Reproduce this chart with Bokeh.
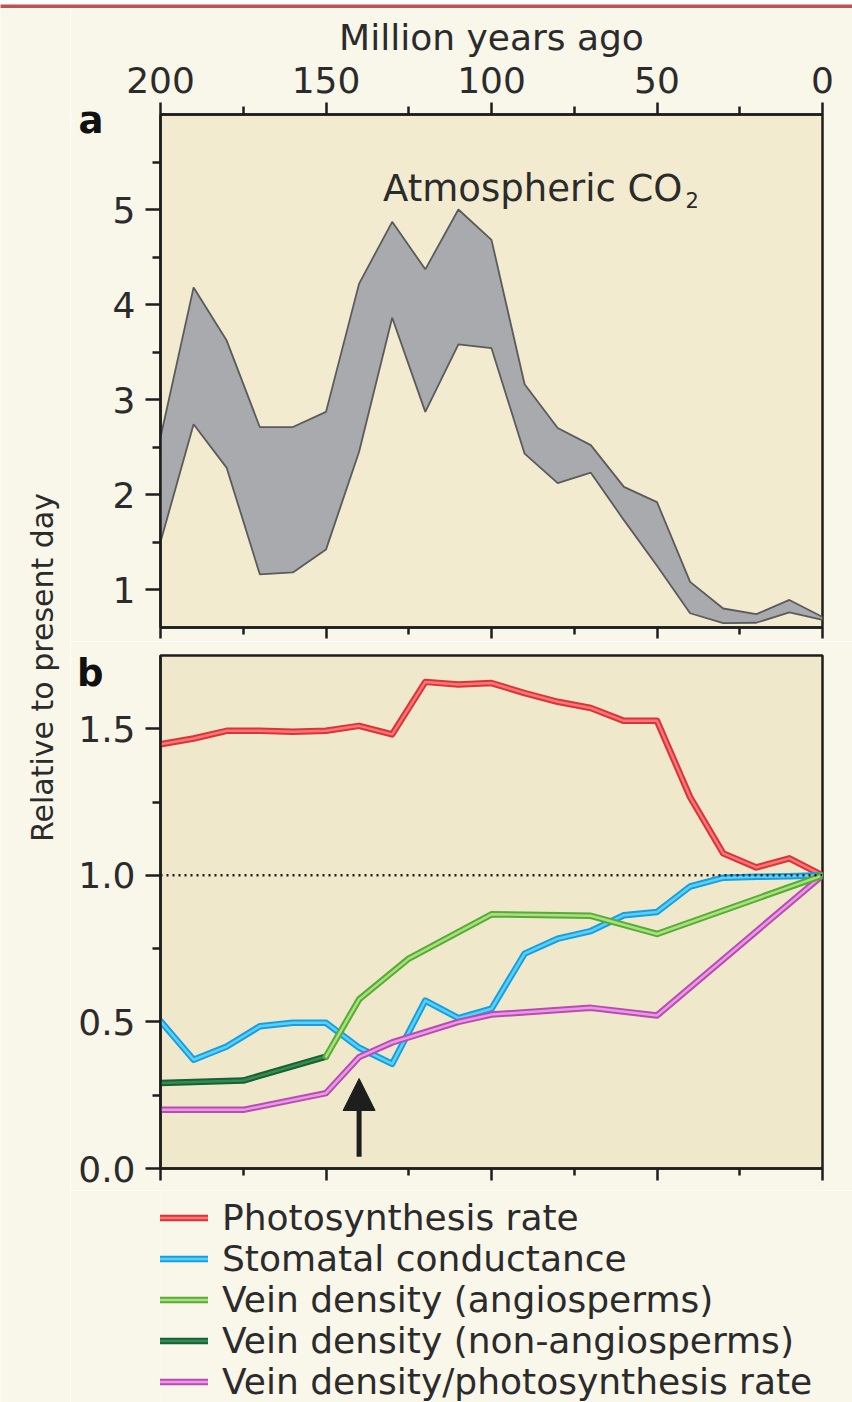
import math
import numpy as np
from bokeh.plotting import figure
from bokeh.models import (Range1d, LinearAxis, FixedTicker, Label, Span, Arrow, NormalHead,
                          Legend, LegendItem, PrintfTickFormatter, CustomJSTickFormatter)
from bokeh.layouts import column, row
from bokeh.embed import file_html
from bokeh.resources import INLINE

# ---------------- data ----------------
# panel a: atmospheric CO2 (relative to present day), upper / lower bounds
co2_age = [200, 190, 180, 170, 160, 150, 140, 130, 120, 110, 100, 90, 80, 70, 60, 50, 40, 30, 20, 10, 0]
co2_upper = [2.60, 4.18, 3.62, 2.71, 2.71, 2.87, 4.22, 4.87, 4.37, 5.00, 4.68, 3.16, 2.70, 2.52, 2.08, 1.92, 1.08, 0.80, 0.74, 0.89, 0.71]
co2_lower = [1.50, 2.74, 2.28, 1.16, 1.18, 1.42, 2.45, 3.86, 2.87, 3.58, 3.54, 2.43, 2.12, 2.23, 1.73, 1.25, 0.75, 0.645, 0.65, 0.76, 0.68]

# panel b
photo_age = [200, 190, 180, 170, 160, 150, 140, 130, 120, 110, 100, 90, 80, 70, 60, 50, 40, 30, 20, 10, 0]
photo_rate = [1.447, 1.467, 1.493, 1.493, 1.490, 1.493, 1.510, 1.481, 1.660, 1.651, 1.656, 1.622, 1.592, 1.571, 1.527, 1.527, 1.267, 1.075, 1.027, 1.058, 1.0]
stom_age = [200, 190, 180, 170, 160, 150, 140, 130, 120, 110, 100, 90, 80, 70, 60, 50, 40, 30, 20, 10, 0]
stom_cond = [0.503, 0.371, 0.416, 0.485, 0.497, 0.497, 0.412, 0.357, 0.573, 0.513, 0.545, 0.733, 0.784, 0.810, 0.864, 0.875, 0.962, 0.992, 0.995, 0.997, 1.0]
angio_age = [150, 140, 125, 100, 70, 50, 0]
angio_vein = [0.382, 0.577, 0.716, 0.867, 0.862, 0.800, 1.0]
nonangio_age = [200, 175, 150]
nonangio_vein = [0.292, 0.300, 0.382]
ratio_age = [200, 175, 150, 140, 130, 120, 110, 100, 70, 50, 0]
ratio_vein = [0.200, 0.200, 0.257, 0.380, 0.430, 0.465, 0.500, 0.525, 0.548, 0.522, 1.0]

series_names = ["Photosynthesis rate", "Stomatal conductance", "Vein density (angiosperms)",
                "Vein density (non-angiosperms)", "Vein density/photosynthesis rate"]
series_keys = ["photo", "stom", "angio", "nonang", "ratio"]

x_major = [200, 150, 100, 50, 0]
x_minor = [175, 125, 75, 25]
ya_major = [1, 2, 3, 4, 5]
ya_minor = [1.5, 2.5, 3.5, 4.5, 5.5]
yb_major = [0.0, 0.5, 1.0, 1.5]
yb_minor = [0.25, 0.75, 1.25]
panel_tags = ["a", "b"]
tag_a_y, tag_b_y = 5.937, 1.689
arrow_age = 140
arrow_from, arrow_to = 0.04, 0.307

# ---------------- style ----------------
FONT = "DejaVu Sans"
TXT = "#2b2b2b"
INK = "#1e1e1e"
PAGE_BG = "#f9f6ea"
TICK_FS = "36px"

COLORS = {
    "photo": ("#d8353a", "#ff7474"),
    "stom": ("#1a9ee0", "#57d3ff"),
    "angio": ("#58ab38", "#a8e27c"),
    "nonang": ("#1b5f34", "#2f8f52"),
    "ratio": ("#b24fb0", "#f195ea"),
}

def style_axis(ax, major_out=12, minor_out=7, labels=True, fs=TICK_FS, standoff=10):
    ax.axis_line_color = INK
    ax.axis_line_width = 2.5
    ax.major_tick_line_color = INK
    ax.major_tick_line_width = 2.5
    ax.minor_tick_line_color = INK
    ax.minor_tick_line_width = 2.5
    ax.major_tick_in = 0
    ax.minor_tick_in = 0
    ax.major_tick_out = major_out
    ax.minor_tick_out = minor_out
    ax.major_label_text_font = FONT
    if labels:
        ax.major_label_text_color = TXT
        ax.major_label_text_font_size = fs
        ax.major_label_standoff = standoff
    else:
        ax.major_label_text_color = None
        ax.major_label_text_font_size = "8px"
        ax.major_label_standoff = 0

def tag_axis(fig, tag, y, standoff):
    ax = LinearAxis(ticker=FixedTicker(ticks=[y], minor_ticks=[]),
                    formatter=CustomJSTickFormatter(code="return '%s';" % tag))
    ax.axis_line_color = None
    ax.major_tick_line_color = None
    ax.minor_tick_line_color = None
    ax.major_tick_in = 0
    ax.major_tick_out = 0
    ax.minor_tick_in = 0
    ax.minor_tick_out = 0
    ax.major_label_text_font = FONT
    ax.major_label_text_font_style = "bold"
    ax.major_label_text_font_size = "37px"
    ax.major_label_text_color = "#111111"
    ax.major_label_standoff = standoff
    fig.add_layout(ax, "left")

x_range = Range1d(200, 0)
FRAME_W = 662

def gradient(top_hex, bottom_hex, n=256):
    t = np.linspace(0.0, 1.0, n)[:, None]          # row 0 = bottom
    c0 = np.array([int(bottom_hex[i:i + 2], 16) for i in (1, 3, 5)], float)
    c1 = np.array([int(top_hex[i:i + 2], 16) for i in (1, 3, 5)], float)
    rgb = (c0 + (c1 - c0) * t).round().astype(np.uint32)
    img = (255 << 24) | (rgb[:, 2] << 16) | (rgb[:, 1] << 8) | rgb[:, 0]
    return img.reshape(n, 1).astype(np.uint32)

def base_fig(height, y_range, top, bottom, grad, above=False):
    f = figure(width=782, height=height, x_range=x_range, y_range=y_range,
               output_backend="svg", toolbar_location=None,
               x_axis_location="above" if above else "below",
               min_border_left=90, min_border_right=30,
               min_border_top=top, min_border_bottom=bottom)
    f.grid.visible = False
    f.background_fill_color = grad[1]
    f.border_fill_color = PAGE_BG
    f.outline_line_color = INK
    f.outline_line_width = 2.5
    frame_h = height - top - bottom
    f.image_rgba(image=[gradient(*grad)], x=x_range.start, y=y_range.start,
                 dw=FRAME_W, dh=frame_h, dw_units="screen", dh_units="screen")
    return f

def bare_fig(width, height, **kw):
    f = figure(width=width, height=height, x_range=Range1d(0, width), y_range=Range1d(0, height),
               output_backend="svg", toolbar_location=None,
               x_axis_location=None, y_axis_location=None, **kw)
    f.grid.visible = False
    f.outline_line_color = None
    return f

def dual_line(fig, x, y, key):
    outer, inner = COLORS[key]
    r1 = fig.line(x, y, line_color=outer, line_width=6.5, line_join="round", line_cap="round")
    r2 = fig.line(x, y, line_color=inner, line_width=2.5, line_join="round", line_cap="round")
    return [r1, r2]

# ---------------- panel a ----------------
figA = base_fig(633, Range1d(0.6, 6.0), top=106, bottom=14, grad=("#fbf8ec", "#f2ebcf"), above=True)
axA_top = figA.xaxis[0]
axA_top.ticker = FixedTicker(ticks=x_major, minor_ticks=x_minor)
style_axis(axA_top, major_out=12, minor_out=8, standoff=10)
axA_top.axis_label = "Million years ago"
axA_top.axis_label_text_font = FONT
axA_top.axis_label_text_font_style = "normal"
axA_top.axis_label_text_font_size = "36px"
axA_top.axis_label_text_color = TXT
axA_top.axis_label_standoff = 6

axA_bot = LinearAxis(ticker=FixedTicker(ticks=x_major, minor_ticks=x_minor))
style_axis(axA_bot, major_out=11, minor_out=7, labels=False)
figA.add_layout(axA_bot, "below")

axA_y = figA.yaxis[0]
axA_y.ticker = FixedTicker(ticks=ya_major, minor_ticks=ya_minor)
style_axis(axA_y, major_out=15, minor_out=8, standoff=10)
tag_axis(figA, panel_tags[0], tag_a_y, standoff=6)

figA.varea(x=co2_age, y1=co2_lower, y2=co2_upper, fill_color="#a9aaae", fill_alpha=1.0)
figA.line(co2_age, co2_upper, line_color="#5b5b5d", line_width=1.8)
figA.line(co2_age, co2_lower, line_color="#5b5b5d", line_width=1.8)

figA.add_layout(Label(x=42.3, y=5.22, text="Atmospheric CO", text_align="right",
                      text_baseline="alphabetic", text_font=FONT, text_font_size="37px",
                      text_color=TXT))
figA.add_layout(Label(x=41.4, y=5.105, text="2", text_align="left",
                      text_baseline="alphabetic", text_font=FONT, text_font_size="21px",
                      text_color=TXT))

# ---------------- panel b ----------------
figB = base_fig(549, Range1d(0, 1.75), top=14, bottom=22, grad=("#faf6e8", "#f0e8ca"))
axB_x = figB.xaxis[0]
axB_x.ticker = FixedTicker(ticks=x_major, minor_ticks=x_minor)
style_axis(axB_x, major_out=12, minor_out=7, labels=False)
axB_y = figB.yaxis[0]
axB_y.ticker = FixedTicker(ticks=yb_major, minor_ticks=yb_minor)
axB_y.formatter = PrintfTickFormatter(format="%.1f")
style_axis(axB_y, major_out=15, minor_out=8, standoff=10)
tag_axis(figB, panel_tags[1], tag_b_y, standoff=-28)

series_data = {
    "photo": (photo_age, photo_rate),
    "stom": (stom_age, stom_cond),
    "angio": (angio_age, angio_vein),
    "nonang": (nonangio_age, nonangio_vein),
    "ratio": (ratio_age, ratio_vein),
}
for key in ["photo", "stom", "ratio", "nonang", "angio"]:
    dual_line(figB, *series_data[key], key)

figB.add_layout(Span(location=1.0, dimension="width", line_color=INK,
                     line_width=2.5, line_dash="2 4"))

figB.add_layout(Arrow(end=NormalHead(size=32, fill_color=INK, line_color=INK),
                      x_start=arrow_age, y_start=arrow_from, x_end=arrow_age, y_end=arrow_to,
                      line_color=INK, line_width=5))

# ---------------- legend strip (same series, drawn out of view; legend only) ----------------
figL = figure(width=782, height=212, x_range=x_range, y_range=Range1d(10, 11),
              output_backend="svg", toolbar_location=None,
              x_axis_location=None, y_axis_location=None,
              min_border_left=90, min_border_right=30, min_border_top=0, min_border_bottom=0)
figL.grid.visible = False
figL.outline_line_color = None
figL.background_fill_color = PAGE_BG
figL.border_fill_color = PAGE_BG
items = []
for name, key in zip(series_names, series_keys):
    items.append(LegendItem(label=name, renderers=dual_line(figL, *series_data[key], key)))
legend = Legend(items=items, location=(0, 0), orientation="vertical",
                margin=0, padding=0, spacing=0,
                glyph_width=48, glyph_height=41, label_height=41, label_standoff=14,
                label_text_font=FONT, label_text_font_size="36px", label_text_color=TXT,
                background_fill_alpha=0, border_line_alpha=0)
figL.add_layout(legend)

# ---------------- y label strip ----------------
fig0 = bare_fig(70, 1394, min_border=0)
fig0.background_fill_color = PAGE_BG
fig0.border_fill_color = PAGE_BG
fig0.add_layout(Label(x=42, y=735, text="Relative to present day", angle=math.pi / 2,
                      text_align="center", text_baseline="middle", text_font=FONT,
                      text_font_size="30px", text_color=TXT))

# ---------------- top band ----------------
band = bare_fig(852, 8, min_border=0)
band.background_fill_color = "#c4504c"
band.border_fill_color = "#c4504c"

p = column(band, row(fig0, column(figA, figB, figL)))

open("out.html", "w").write(file_html(p, INLINE))
